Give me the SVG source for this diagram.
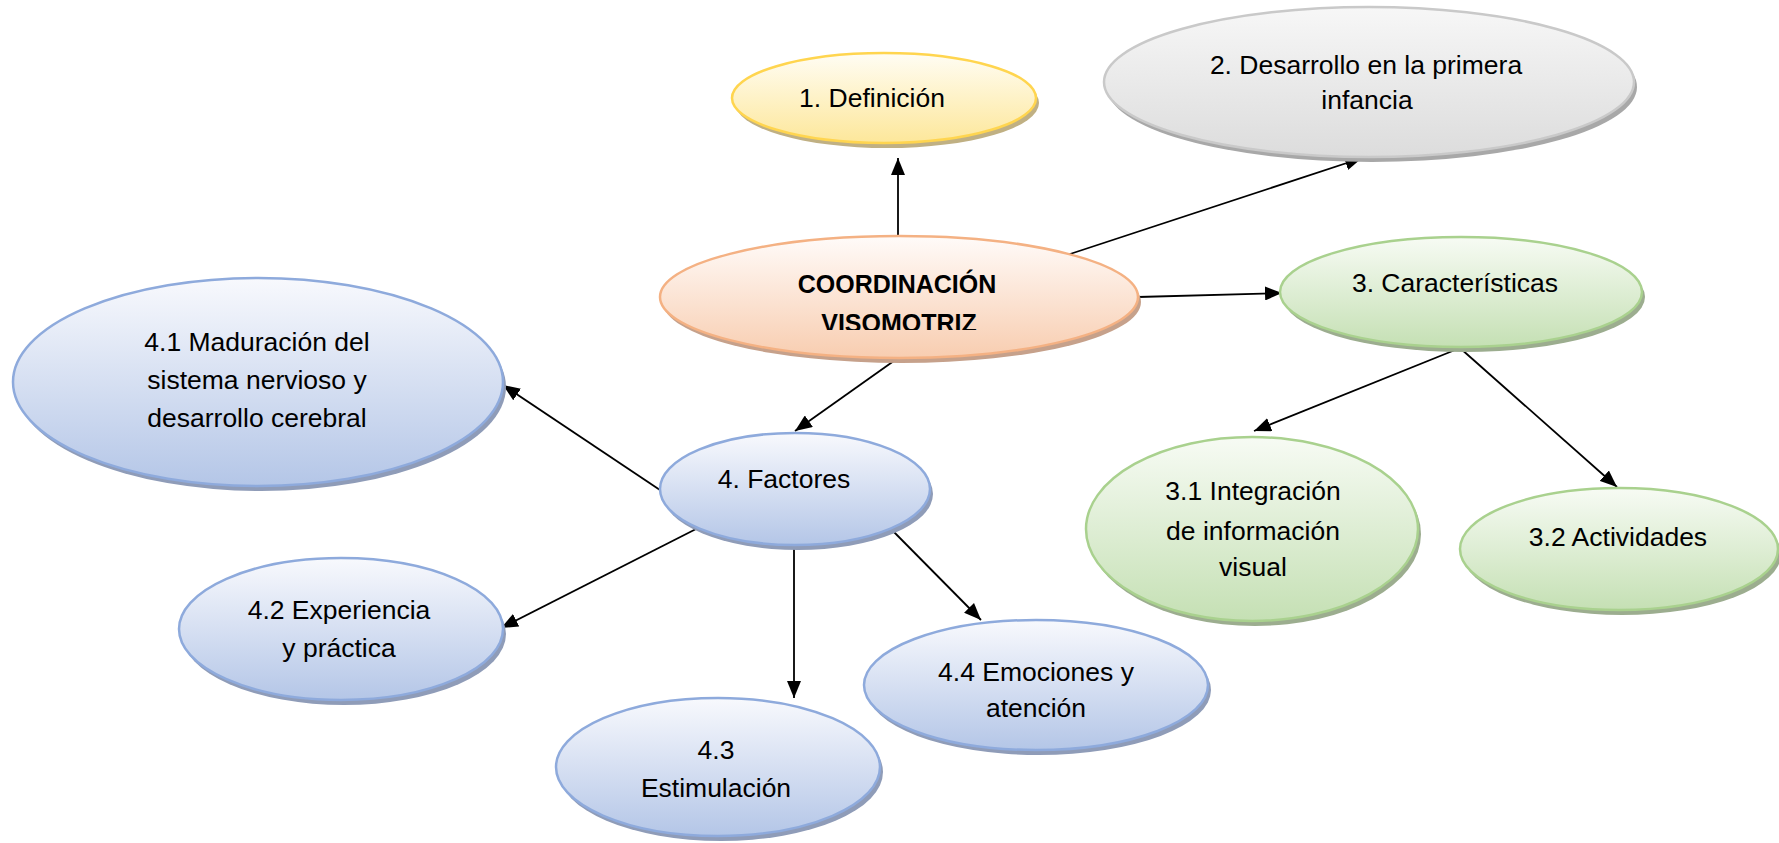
<svg xmlns="http://www.w3.org/2000/svg" width="1779" height="843" viewBox="0 0 1779 843">
<style>
  .t{font-family:"Liberation Sans",Arial,sans-serif;font-size:26.5px;fill:#000;text-anchor:middle}
  .b{font-weight:bold;font-size:25px}
  .c{fill:none;stroke:#000;stroke-width:1.8;marker-end:url(#ah)}
  .sw{stroke-width:2.5}
</style>
<defs>
  <marker id="ah" markerUnits="userSpaceOnUse" markerWidth="18" markerHeight="14" refX="17" refY="7" orient="auto">
    <path d="M0,0 L17,7 L0,14 z" fill="#000"/>
  </marker>
  <linearGradient id="gy" x1="0" y1="0" x2="0" y2="1"><stop offset="0" stop-color="#fffdf4"/><stop offset="1" stop-color="#fde79a"/></linearGradient>
  <linearGradient id="gg" x1="0" y1="0" x2="0" y2="1"><stop offset="0" stop-color="#f7f7f7"/><stop offset="1" stop-color="#dcdcdc"/></linearGradient>
  <linearGradient id="go" x1="0" y1="0" x2="0" y2="1"><stop offset="0" stop-color="#fffbf9"/><stop offset="1" stop-color="#f8cdb0"/></linearGradient>
  <linearGradient id="gn" x1="0" y1="0" x2="0" y2="1"><stop offset="0" stop-color="#f7fbf4"/><stop offset="1" stop-color="#c5e0b4"/></linearGradient>
  <linearGradient id="gb" x1="0" y1="0" x2="0" y2="1"><stop offset="0" stop-color="#f8f9fd"/><stop offset="1" stop-color="#b4c6e7"/></linearGradient>
  <clipPath id="clipc"><rect x="600" y="230" width="600" height="100"/></clipPath>
</defs>

<g id="connectors">
  <line class="c" x1="898" y1="237" x2="898" y2="158"/>
  <line class="c" x1="1067" y1="255" x2="1362" y2="158"/>
  <line class="c" x1="1138" y1="297" x2="1282" y2="293"/>
  <line class="c" x1="898" y1="358" x2="795" y2="431"/>
  <line class="c" x1="1460" y1="348" x2="1254" y2="431"/>
  <line class="c" x1="1460" y1="348" x2="1617" y2="487"/>
  <line class="c" x1="660" y1="490" x2="503" y2="385"/>
  <line class="c" x1="698" y1="528" x2="501" y2="628"/>
  <line class="c" x1="794" y1="545" x2="794" y2="698"/>
  <line class="c" x1="890" y1="528" x2="981" y2="620"/>
</g>

<g id="n1">
  <ellipse cx="887" cy="103" rx="152" ry="45" fill="#c0b083"/>
  <ellipse class="sw" cx="884" cy="98" rx="152" ry="45" fill="url(#gy)" stroke="#ffd54f"/>
  <text class="t" x="872" y="107">1. Definición</text>
</g>

<g id="n2">
  <ellipse cx="1372" cy="87" rx="265" ry="75" fill="#a8a8a8"/>
  <ellipse class="sw" cx="1369" cy="82" rx="265" ry="75" fill="url(#gg)" stroke="#c9c9c9"/>
  <text class="t" x="1366" y="74">2. Desarrollo en la primera</text>
  <text class="t" x="1367" y="109">infancia</text>
</g>

<g id="n0">
  <ellipse cx="902" cy="302" rx="239" ry="61" fill="#c6a18b"/>
  <ellipse class="sw" cx="899" cy="297" rx="239" ry="61" fill="url(#go)" stroke="#f4b183"/>
  <text class="t b" x="897" y="293">COORDINACIÓN</text>
  <text class="t b" x="899" y="332" clip-path="url(#clipc)">VISOMOTRIZ</text>
</g>

<g id="n3">
  <ellipse cx="1464" cy="297" rx="181" ry="55" fill="#9cad8f"/>
  <ellipse class="sw" cx="1461" cy="292" rx="181" ry="55" fill="url(#gn)" stroke="#a9d18e"/>
  <text class="t" x="1455" y="292">3. Características</text>
</g>

<g id="n31">
  <ellipse cx="1255" cy="534" rx="166" ry="92" fill="#9cad8f"/>
  <ellipse class="sw" cx="1252" cy="529" rx="166" ry="92" fill="url(#gn)" stroke="#a9d18e"/>
  <text class="t" x="1253" y="500">3.1 Integración</text>
  <text class="t" x="1253" y="540">de información</text>
  <text class="t" x="1253" y="576">visual</text>
</g>

<g id="n32">
  <ellipse cx="1622" cy="554" rx="159" ry="61" fill="#9cad8f"/>
  <ellipse class="sw" cx="1619" cy="549" rx="159" ry="61" fill="url(#gn)" stroke="#a9d18e"/>
  <text class="t" x="1618" y="546">3.2 Actividades</text>
</g>

<g id="n41">
  <ellipse cx="261" cy="387" rx="245" ry="104" fill="#8f9cb8"/>
  <ellipse class="sw" cx="258" cy="382" rx="245" ry="104" fill="url(#gb)" stroke="#8eaadc"/>
  <text class="t" x="257" y="351">4.1 Maduración del</text>
  <text class="t" x="257" y="389">sistema nervioso y</text>
  <text class="t" x="257" y="427">desarrollo cerebral</text>
</g>

<g id="n4">
  <ellipse cx="798" cy="494" rx="135" ry="56" fill="#8f9cb8"/>
  <ellipse class="sw" cx="795" cy="489" rx="135" ry="56" fill="url(#gb)" stroke="#8eaadc"/>
  <text class="t" x="784" y="488">4. Factores</text>
</g>

<g id="n42">
  <ellipse cx="344" cy="634" rx="162" ry="71" fill="#8f9cb8"/>
  <ellipse class="sw" cx="341" cy="629" rx="162" ry="71" fill="url(#gb)" stroke="#8eaadc"/>
  <text class="t" x="339" y="619">4.2 Experiencia</text>
  <text class="t" x="339" y="657">y práctica</text>
</g>

<g id="n43">
  <ellipse cx="721" cy="772" rx="162" ry="69" fill="#8f9cb8"/>
  <ellipse class="sw" cx="718" cy="767" rx="162" ry="69" fill="url(#gb)" stroke="#8eaadc"/>
  <text class="t" x="716" y="759">4.3</text>
  <text class="t" x="716" y="797">Estimulación</text>
</g>

<g id="n44">
  <ellipse cx="1039" cy="690" rx="172" ry="65" fill="#8f9cb8"/>
  <ellipse class="sw" cx="1036" cy="685" rx="172" ry="65" fill="url(#gb)" stroke="#8eaadc"/>
  <text class="t" x="1036" y="681">4.4 Emociones y</text>
  <text class="t" x="1036" y="717">atención</text>
</g>
</svg>
